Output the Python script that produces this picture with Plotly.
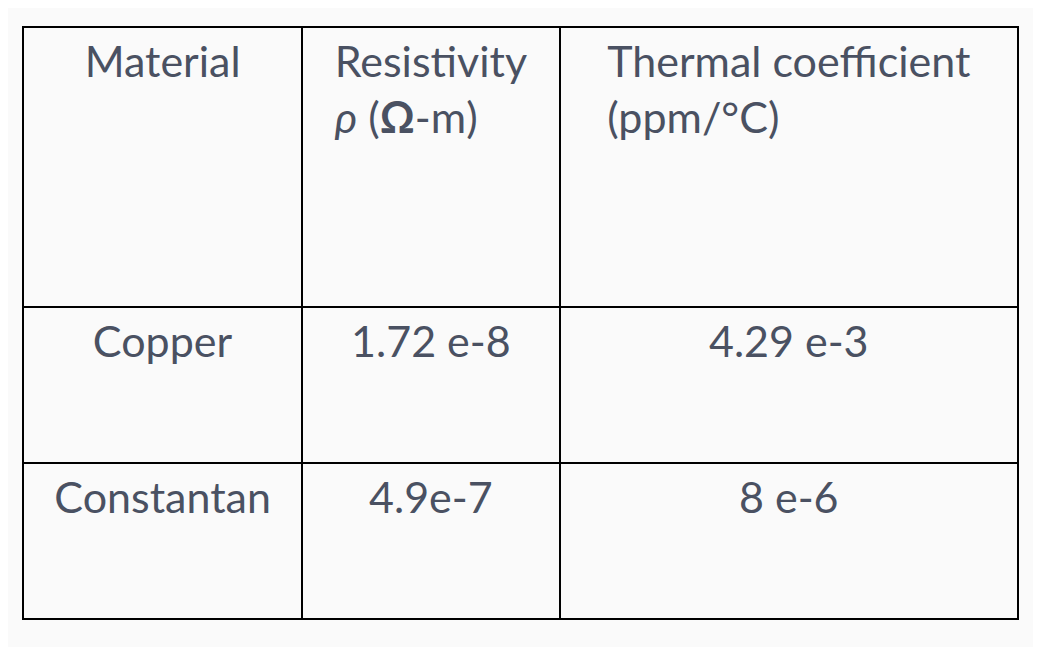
import plotly.graph_objects as go

headers = ["<br>Material", "<br>Resistivity<br><i>ρ</i> (<b>Ω</b>-m)", "<br>Thermal coefficient<br>(ppm/°C)"]
materials = ["<br>Copper", "<br>Constantan"]
resistivity = ["<br>1.72 e-8", "<br>4.9e-7"]
thermal = ["<br>4.29 e-3", "<br>8 e-6"]

W, H = 1041, 647
font = dict(family="Lato", size=43, color="#4a5162")
fig = go.Figure(go.Table(
    domain=dict(x=[15/W, 1010/W], y=[0, 1-19/H]),
    columnwidth=[279, 257, 458],
    header=dict(values=headers, height=280, align="center",
                line=dict(color="black", width=2), fill_color="#fafafa",
                font=font),
    cells=dict(values=[materials, resistivity, thermal], height=156, align="center",
               line=dict(color="black", width=2), fill_color="#fafafa",
               font=font),
))
fig.update_layout(width=W, height=H, margin=dict(l=0, r=0, t=0, b=0),
                  paper_bgcolor="#fafafa")
fig.write_html("out.html")
